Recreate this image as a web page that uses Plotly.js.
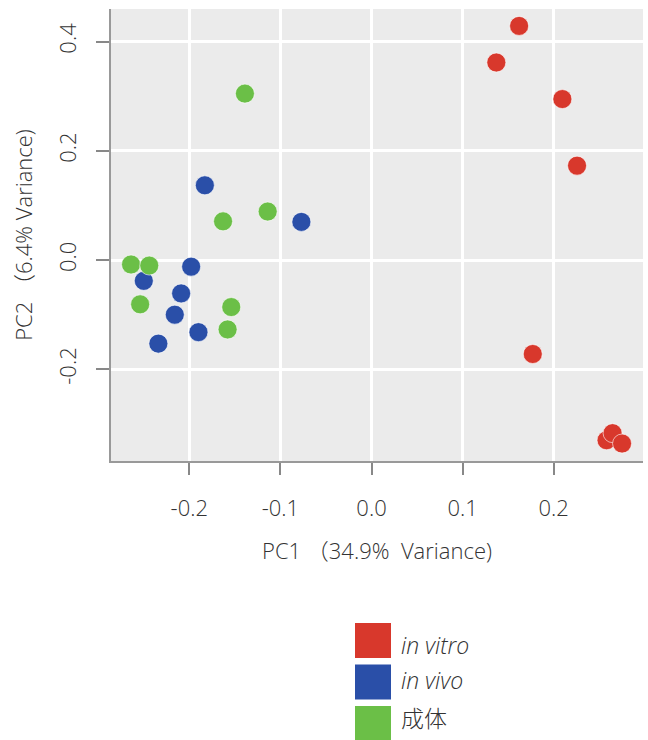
<!DOCTYPE html>
<html>
<head>
<meta charset="utf-8">
<script src="https://cdn.plot.ly/plotly-3.0.1.min.js"></script>
<style>html,body{margin:0;padding:0;background:#fff;}</style>
</head>
<body>
<div id="chart" style="width:648px;height:740px;"></div>
<script>
const seriesNames = ["in vitro", "in vivo", "成体"];
const seriesLabels = ["<i>in vitro</i>", "<i>in vivo</i>", "成体"];
const seriesColors = ["#d8382c", "#2a4fa8", "#6bbf47"];

const vitroX = [0.162, 0.137, 0.2095, 0.2256, 0.177, 0.258, 0.2646, 0.275];
const vitroY = [0.429, 0.362, 0.295, 0.173, -0.172, -0.330, -0.317, -0.336];

const vivoX = [-0.183, -0.077, -0.198, -0.250, -0.209, -0.216, -0.190, -0.234];
const vivoY = [0.137, 0.070, -0.012, -0.038, -0.061, -0.100, -0.132, -0.153];

const adultX = [-0.139, -0.163, -0.114, -0.264, -0.244, -0.254, -0.154, -0.158];
const adultY = [0.305, 0.071, 0.089, -0.008, -0.010, -0.081, -0.086, -0.127];

const xTicks = [-0.2, -0.1, 0.0, 0.1, 0.2];
const xTickText = ["-0.2", "-0.1", "0.0", "0.1", "0.2"];
const yTicks = [-0.2, 0.0, 0.2, 0.4];
const yTickText = ["-0.2", "0.0", "0.2", "0.4"];

const xs = [vitroX, vivoX, adultX];
const ys = [vitroY, vivoY, adultY];

const traces = seriesNames.map((n, i) => ({
  type: "scatter", mode: "markers", name: n,
  x: xs[i], y: ys[i],
  marker: {color: seriesColors[i], size: 19, line: {color: "rgba(255,255,255,0.6)", width: 1}},
  showlegend: false
}));

const font = "'Open Sans', 'Noto Sans CJK SC', sans-serif";
const txt = "#333";
const shapes = [];
const annotations = [];
const legTextY = [645, 680, 718];
seriesNames.forEach((n, i) => {
  shapes.push({type: "rect", xref: "paper", yref: "paper",
    x0: (355 - 111) / 532, x1: (391 - 111) / 532,
    y0: (461 - (623 + i * 41.5)) / 452, y1: (461 - (658 + i * 41.5)) / 452,
    fillcolor: seriesColors[i], line: {width: 0}});
  annotations.push({xref: "paper", yref: "paper", x: (399 - 111) / 532, y: (461 - legTextY[i]) / 452,
    xanchor: "left", yanchor: "middle", showarrow: false, text: seriesLabels[i],
    font: {family: font, size: 23, color: txt, weight: 300}});
});

const layout = {
  width: 648, height: 740,
  margin: {l: 111, r: 5, t: 9, b: 279},
  paper_bgcolor: "#ffffff", plot_bgcolor: "#ebebeb",
  font: {family: font, color: txt, size: 19, weight: 300},
  xaxis: {
    range: [-0.286, 0.298], tickvals: xTicks, ticktext: xTickText,
    showgrid: true, gridcolor: "#ffffff", gridwidth: 3, zeroline: false,
    showline: true, linecolor: "#999", linewidth: 2,
    ticks: "outside", ticklen: 12, tickwidth: 2, tickcolor: "#888",
    ticklabelstandoff: 15,
    tickfont: {size: 22, color: txt, weight: 300},
    title: {text: "PC1 （34.9%  Variance)", font: {size: 22, color: txt, weight: 300}, standoff: 22}
  },
  yaxis: {
    range: [-0.368, 0.46], tickvals: yTicks, ticktext: yTickText, tickangle: -90,
    showgrid: true, gridcolor: "#ffffff", gridwidth: 3, zeroline: false,
    showline: true, linecolor: "#999", linewidth: 2,
    ticks: "outside", ticklen: 13, tickwidth: 2, tickcolor: "#888",
    ticklabelstandoff: 11,
    tickfont: {size: 22, color: txt, weight: 300},
    title: {text: "PC2 （6.4% Variance)", font: {size: 22, color: txt, weight: 300}, standoff: 14}
  },
  shapes: shapes,
  annotations: annotations,
  showlegend: false
};

Plotly.newPlot("chart", traces, layout, {displayModeBar: false});
</script>
</body>
</html>
